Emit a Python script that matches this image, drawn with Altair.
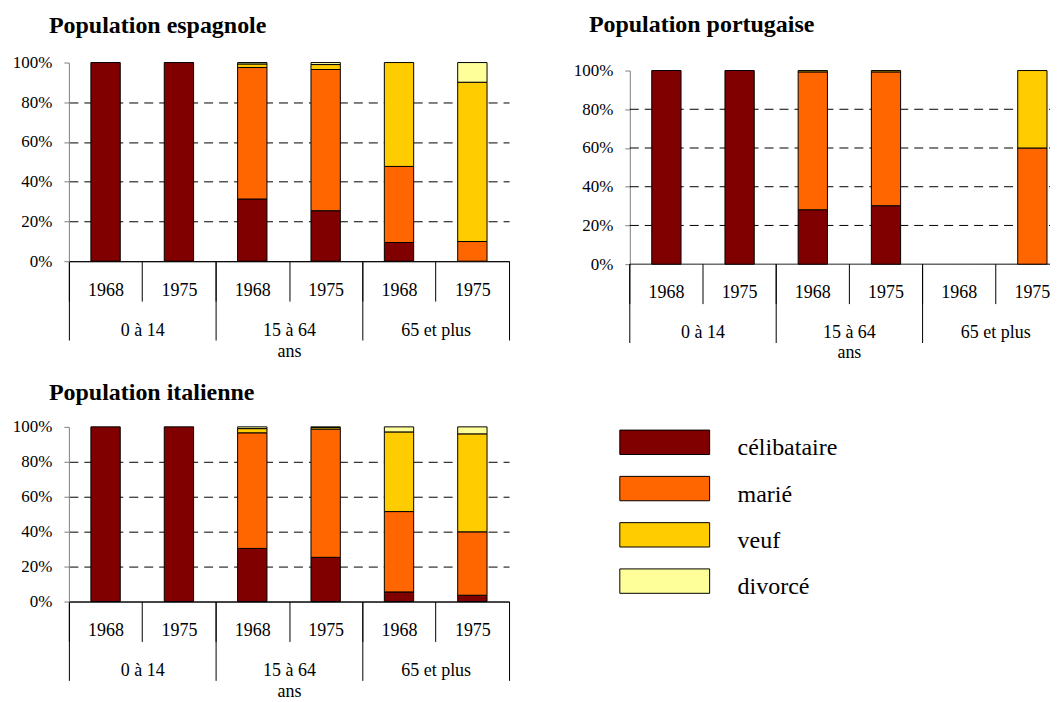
import altair as alt
import pandas as pd

FONT = "Liberation Serif"

statuses = ["célibataire", "marié", "veuf", "divorcé"]
colors = ["#800000", "#FF6600", "#FFCC00", "#FFFF99"]
groups = ["0 à 14", "15 à 64", "65 et plus"]
years = ["1968", "1975"]
grid_values = [0, 20, 40, 60, 80]

# bar order: (0 à 14,1968),(0 à 14,1975),(15 à 64,1968),(15 à 64,1975),(65 et plus,1968),(65 et plus,1975)
esp_celib = [100, 100, 31.3, 25.4, 9.4, 0]
esp_marie = [0, 0, 66.2, 71.1, 38.3, 9.9]
esp_veuf = [0, 0, 1.8, 2.5, 52.3, 80.2]
esp_div = [0, 0, 0.7, 1.0, 0, 9.9]

por_celib = [100, 100, 28.1, 30.2, 0, 0]
por_marie = [0, 0, 71.2, 69.1, 0, 60]
por_veuf = [0, 0, 0.7, 0.7, 0, 40]
por_div = [0, 0, 0, 0, 0, 0]

ita_celib = [100, 100, 30.4, 25.3, 5.5, 3.6]
ita_marie = [0, 0, 66.2, 73.4, 46.0, 36.3]
ita_veuf = [0, 0, 2.4, 0.9, 45.6, 56.1]
ita_div = [0, 0, 1.0, 0.4, 2.9, 4.0]

keys = [(g, y) for g in groups for y in years]
key_labels = [g + "|" + y for g, y in keys]

color_scale = alt.Scale(domain=statuses, range=colors)


def panel(title, series, w, h, title_dx, title_offset, xrange=None, top=0):
    rows = []
    for i, (g, y) in enumerate(keys):
        for j, (s, vals) in enumerate(zip(statuses, series)):
            v = vals[i]
            if v:
                rows.append({"key": g + "|" + y, "group": g, "year": y,
                             "status": s, "ord": j, "value": v})
    df = pd.DataFrame(rows)
    clipped = xrange is not None
    H = h + top

    yaxis = alt.Axis(
        values=[0, 20, 40, 60, 80, 100], labelExpr="datum.value + '%'",
        tickSize=5, tickColor="#808080", domainColor="#808080",
        labelPadding=12, labelFontSize=17, labelFont=FONT, labelColor="black",
        grid=not clipped, gridColor="black",
        gridDash={"condition": {"test": "datum.value == 0", "value": [1, 0]}, "value": [9, 6]},
        gridOpacity={"condition": {"test": "datum.value == 100", "value": 0}, "value": 1},
        title=None)
    yscale = alt.Scale(domain=[0, 100], nice=False, range=[H, top])
    ycol = alt.Y("value:Q", stack="zero", scale=yscale, axis=yaxis)
    color = alt.Color("status:N", scale=color_scale, legend=None)
    order = alt.Order("ord:Q", sort="ascending")

    if not clipped:
        step = w / 6.0
        common = dict(labelAngle=0, tickColor="black", labelBaseline="middle",
                      labelFontSize=18, labelFont=FONT, labelColor="black", grid=False)
        xaxis = alt.Axis(title=None, labelExpr="split(datum.label, '|')[1]",
                         tickSize=40, domainColor="black", tickOffset=-step / 2,
                         labelOffset=step / 2, labelPadding=-11, **common)
        gaxis = alt.Axis(orient="bottom", title="ans", titleFont=FONT, titleFontSize=18,
                         titleFontWeight="normal", titleColor="black", titlePadding=2,
                         tickSize=79, domain=False, labelPadding=-10,
                         tickBand="extent", **common)
        xs = alt.Scale(domain=key_labels, paddingInner=0.6, paddingOuter=0.3)
        gs = alt.Scale(domain=groups, paddingInner=0, paddingOuter=0)
        bars = alt.Chart(df).mark_bar(stroke="black", strokeWidth=1).encode(
            x=alt.X("key:N", sort=key_labels, scale=xs, axis=xaxis),
            y=ycol, color=color, order=order)
        gdf = pd.DataFrame({"group": groups})
        grp = alt.Chart(gdf).mark_point(opacity=0).encode(
            x=alt.X("group:N", sort=groups, scale=gs, axis=gaxis))
        layers = [bars, grp]
    else:
        # category axis drawn with marks so the part past the window edge stays cut off
        xs = alt.Scale(domain=key_labels, paddingInner=0.6, paddingOuter=0.3, range=[0, xrange])
        slot = alt.Scale(domain=key_labels, paddingInner=0, paddingOuter=0, range=[0, xrange])
        gs = alt.Scale(domain=groups, paddingInner=0, paddingOuter=0, range=[0, xrange])
        rdf = pd.DataFrame({"v": grid_values})
        rules = alt.Chart(rdf).mark_rule(color="black", strokeWidth=1).encode(
            y=alt.Y("v:Q", scale=yscale, axis=yaxis),
            x=alt.value(0), x2=alt.value(w),
            strokeDash=alt.condition("datum.v == 0", alt.value([1, 0]), alt.value([9, 6])))
        bars = alt.Chart(df).mark_bar(stroke="black", strokeWidth=1).encode(
            x=alt.X("key:N", sort=key_labels, scale=xs, axis=None),
            y=ycol, color=color, order=order)
        kdf = pd.DataFrame({"key": key_labels, "year": [y for _, y in keys]})
        yticks = alt.Chart(kdf).mark_rule(color="black", strokeWidth=1).encode(
            x=alt.X("key:N", sort=key_labels, scale=slot, axis=None, bandPosition=0),
            y=alt.value(H), y2=alt.value(H + 40))
        ylabels = alt.Chart(kdf).mark_text(fontSize=18, font=FONT, color="black",
                                           baseline="middle").encode(
            x=alt.X("key:N", sort=key_labels, scale=slot, axis=None, bandPosition=0.5),
            y=alt.value(H + 29), text="year:N")
        gdf = pd.DataFrame({"group": groups})
        gticks = alt.Chart(gdf).mark_rule(color="black", strokeWidth=1).encode(
            x=alt.X("group:N", sort=groups, scale=gs, axis=None, bandPosition=0),
            y=alt.value(H), y2=alt.value(H + 79))
        glabels = alt.Chart(gdf).mark_text(fontSize=18, font=FONT, color="black",
                                           baseline="middle").encode(
            x=alt.X("group:N", sort=groups, scale=gs, axis=None, bandPosition=0.5),
            y=alt.value(H + 69), text="group:N")
        adf = pd.DataFrame({"t": ["ans"]})
        ans = alt.Chart(adf).mark_text(fontSize=18, font=FONT, color="black",
                                       baseline="middle").encode(
            x=alt.value(xrange / 2), y=alt.value(H + 89), text="t:N")
        layers = [rules, bars, yticks, ylabels, gticks, glabels, ans]

    return alt.layer(*layers).resolve_scale(x="independent").properties(
        width=w, height=H,
        title=alt.TitleParams(title, anchor="start", frame="group", dx=title_dx,
                              offset=title_offset, fontSize=24, fontWeight="bold",
                              font=FONT, color="black", baseline="alphabetic"))


esp = panel("Population espagnole", [esp_celib, esp_marie, esp_veuf, esp_div],
            441, 199, -20, -3)
por = panel("Population portugaise", [por_celib, por_marie, por_veuf, por_div],
            421, 194, -41, 6, xrange=440, top=8)
ita = panel("Population italienne", [ita_celib, ita_marie, ita_veuf, ita_div],
            441, 175, -20, -6)

leg_df = pd.DataFrame({"status": statuses})
leg_y = alt.Y("status:N", sort=statuses,
              scale=alt.Scale(domain=statuses, paddingInner=0.473, paddingOuter=0.07),
              axis=None)
leg_rects = alt.Chart(leg_df).mark_bar(stroke="black", strokeWidth=1).encode(
    y=leg_y, x=alt.value(0), x2=alt.value(90),
    color=alt.Color("status:N", scale=color_scale, legend=None))
leg_text = alt.Chart(leg_df).mark_text(align="left", baseline="middle", dy=6,
                                       fontSize=24, font=FONT, color="black").encode(
    y=leg_y, x=alt.value(118), text="status:N")
legend = alt.layer(leg_rects, leg_text).properties(width=230, height=170)

row1 = alt.hconcat(esp, por, spacing=63)
row2 = alt.hconcat(ita, legend, spacing=109)
chart = alt.vconcat(row1, row2, spacing=19).properties(
    padding={"left": 4, "top": 4, "right": 0, "bottom": 0}
).configure(font=FONT).configure_view(stroke="transparent", strokeWidth=0)

chart.save("out.html", embed_options={"renderer": "svg", "actions": False})
